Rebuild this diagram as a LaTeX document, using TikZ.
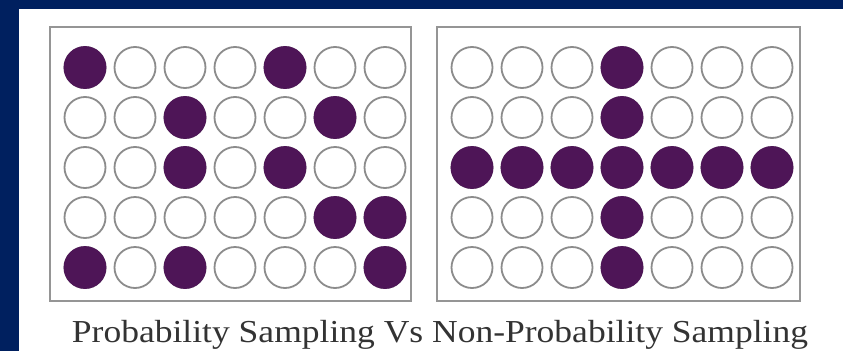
\documentclass[tikz,border=0pt]{standalone}
\usepackage{fontspec}
\setmainfont{Liberation Serif}
\definecolor{navy}{HTML}{00205F}
\definecolor{dot}{HTML}{4E1557}
\definecolor{ring}{HTML}{8C8C8C}
\definecolor{frame}{HTML}{959595}
\definecolor{captxt}{HTML}{333333}
\begin{document}
\begin{tikzpicture}[x=1pt,y=-1pt,
  emptydot/.style={circle,draw=ring,line width=1.8pt,fill=white,minimum size=41pt,inner sep=0pt},
  fulldot/.style={circle,draw=dot,line width=1.8pt,fill=dot,minimum size=41pt,inner sep=0pt},
  panel/.style={draw=frame,line width=2pt}]
\useasboundingbox (0,0) rectangle (843,351);
\fill[navy] (0,0) rectangle (843,351);
\fill[white] (19,8.5) rectangle (843,351);
\draw[panel] (49.5,27) rectangle (411,300.5);
\draw[panel] (437,27) rectangle (800,300.5);
\foreach \r in {1,...,5}{
  \foreach \c in {1,...,7}{
    \node[emptydot] (L\r\c) at ({85+50*(\c-1)},{67.5+50*(\r-1)}) {};
    \node[emptydot] (R\r\c) at ({472+50*(\c-1)},{67.5+50*(\r-1)}) {};
  }
}
\foreach \r/\c in {1/1,1/5,2/3,2/6,3/3,3/5,4/6,4/7,5/1,5/3,5/7}{
  \node[fulldot] at (L\r\c) {};
}
\foreach \r in {1,...,5}{ \node[fulldot] at (R\r4) {}; }
\foreach \c in {1,2,3,5,6,7}{ \node[fulldot] at (R3\c) {}; }
\node[anchor=base,text=captxt,xscale=1.11,font=\fontsize{32}{36}\selectfont] (cap) at (440,342)
  {Probability Sampling Vs Non-Probability Sampling};
\end{tikzpicture}
\end{document}
